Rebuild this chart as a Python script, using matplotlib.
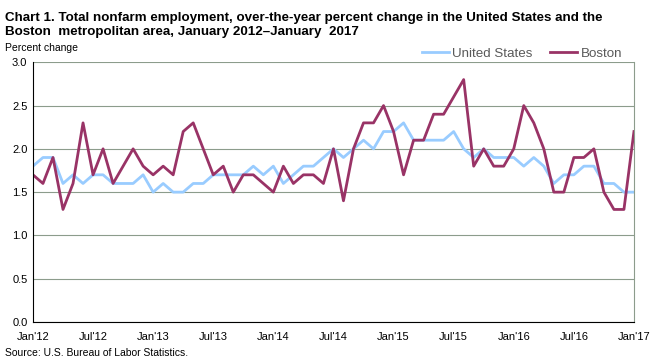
import matplotlib
matplotlib.use("Agg")
import matplotlib.pyplot as plt

plt.rcParams["font.family"] = ["Liberation Sans Narrow", "Liberation Sans", "DejaVu Sans"]

# Monthly over-the-year percent change, Jan 2012 - Jan 2017
months = list(range(61))
us = [1.8, 1.9, 1.9, 1.6, 1.7, 1.6, 1.7, 1.7, 1.6, 1.6, 1.6, 1.7,
      1.5, 1.6, 1.5, 1.5, 1.6, 1.6, 1.7, 1.7, 1.7, 1.7, 1.8, 1.7,
      1.8, 1.6, 1.7, 1.8, 1.8, 1.9, 2.0, 1.9, 2.0, 2.1, 2.0, 2.2,
      2.2, 2.3, 2.1, 2.1, 2.1, 2.1, 2.2, 2.0, 1.9, 2.0, 1.9, 1.9,
      1.9, 1.8, 1.9, 1.8, 1.6, 1.7, 1.7, 1.8, 1.8, 1.6, 1.6, 1.5,
      1.5]
boston = [1.7, 1.6, 1.9, 1.3, 1.6, 2.3, 1.7, 2.0, 1.6, 1.8, 2.0, 1.8,
          1.7, 1.8, 1.7, 2.2, 2.3, 2.0, 1.7, 1.8, 1.5, 1.7, 1.7, 1.6,
          1.5, 1.8, 1.6, 1.7, 1.7, 1.6, 2.0, 1.4, 2.0, 2.3, 2.3, 2.5,
          2.2, 1.7, 2.1, 2.1, 2.4, 2.4, 2.6, 2.8, 1.8, 2.0, 1.8, 1.8,
          2.0, 2.5, 2.3, 2.0, 1.5, 1.5, 1.9, 1.9, 2.0, 1.5, 1.3, 1.3,
          2.2]
tick_pos = list(range(0, 61, 6))
tick_labels = ["Jan'12", "Jul'12", "Jan'13", "Jul'13", "Jan'14", "Jul'14",
               "Jan'15", "Jul'15", "Jan'16", "Jul'16", "Jan'17"]
y_ticks = [0, 0.5, 1.0, 1.5, 2.0, 2.5, 3.0]

fig = plt.figure(figsize=(6.59, 3.6), dpi=100)
ax = fig.add_axes([0.050, 0.1056, 0.912, 0.7214])

grid_c = "#8C9C8C"
ax.plot(months, us, color="#99CCFF", lw=2, label="United States")
ax.plot(months, boston, color="#993366", lw=2, label="Boston")

ax.set_xlim(0, 60)
ax.set_ylim(0, 3.0)
ax.set_yticks(y_ticks)
ax.set_yticklabels([f"{v:.1f}" for v in y_ticks])
ax.set_xticks(tick_pos)
ax.set_xticklabels(tick_labels)
ax.tick_params(length=0, labelsize=8, colors="black")
ax.tick_params(axis="x", pad=7)
ax.tick_params(axis="y", pad=4)
ax.yaxis.grid(True, color=grid_c, lw=0.8)
ax.set_axisbelow(True)
ax.spines["top"].set_visible(False)
ax.spines["right"].set_color(grid_c)
ax.spines["left"].set_color("black")
ax.spines["bottom"].set_color("black")

leg = ax.legend(loc="lower right", bbox_to_anchor=(0.98, 1.009), ncol=2, frameon=False,
                fontsize=9.6, handlelength=2.0, columnspacing=1.35, handletextpad=0.25,
                borderaxespad=0, borderpad=0)
for t in leg.get_texts():
    t.set_color("#595959")

fig.text(0.008, 0.968, "Chart 1. Total nonfarm employment, over-the-year percent change in the United States and the\n"
         "Boston  metropolitan area, January 2012\u2013January  2017",
         fontsize=9.65, fontweight="bold", va="top", ha="left", linespacing=1.3)
fig.text(0.008, 0.868, "Percent change", fontsize=7.5, va="center", ha="left")
fig.text(0.008, 0.02, "Source: U.S. Bureau of Labor Statistics.", fontsize=7.5, va="center", ha="left")

fig.savefig("out.png", dpi=100)
